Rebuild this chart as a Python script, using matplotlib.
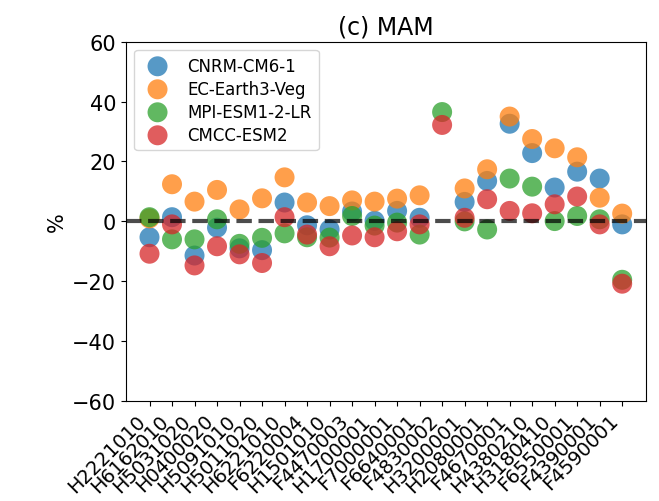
import numpy as np
import matplotlib
matplotlib.use("Agg")
import matplotlib.pyplot as plt

stations = ["H2221010", "H6162010", "H5031020", "H0400020", "H5091010", "H5011020",
            "H6221010", "F6220004", "H1501010", "F4470003", "H1700001", "F7000001",
            "F6640001", "F4830002", "H3200001", "H2080001", "F4670001", "H4380210",
            "H3180410", "F6550001", "F4390001", "F4590001"]

nan = np.nan
cnrm = [-5.3, 1.4, -11.4, -2.1, -9.0, -9.6, 6.3, -1.3, -2.7, 3.3, 0.2, 3.5,
        1.2, nan, 6.5, 13.5, 32.6, 22.8, 11.3, 16.6, 14.3, -1.0]
ecearth = [1.0, 12.4, 6.6, 10.5, 4.0, 7.7, 14.7, 6.3, 5.1, 7.0, 6.6, 7.6,
           8.7, nan, 11.0, 17.4, 35.0, 27.5, 24.4, 21.4, 7.9, 2.6]
mpi = [1.4, -6.0, -6.0, 0.7, -7.5, -5.5, -4.0, -5.3, -5.4, 1.8, -1.4, -0.4,
       -4.4, 36.5, 0.0, -2.7, 14.3, 11.6, 0.1, 1.8, 0.7, -19.5]
cmcc = [-10.8, -1.0, -14.7, -8.3, -11.0, -13.9, 1.4, -4.4, -8.3, -4.7, -5.3, -3.3,
        -1.0, 32.2, 1.2, 7.4, 3.5, 2.7, 5.7, 8.3, -1.0, -20.8]

models = ["CNRM-CM6-1", "EC-Earth3-Veg", "MPI-ESM1-2-LR", "CMCC-ESM2"]
series = [cnrm, ecearth, mpi, cmcc]
colors = ["#1f77b4", "#ff7f0e", "#2ca02c", "#d62728"]

fig = plt.figure(figsize=(6.59, 5.02), dpi=100)
ax = fig.add_axes([0.191, 0.199, 0.789, 0.716])

x = np.arange(len(stations))
for name, vals, c in zip(models, series, colors):
    ax.scatter(x, vals, s=207, color=c, alpha=0.75, label=name, edgecolors='none')

ax.axhline(0, color='k', ls='--', lw=3, alpha=0.7)

ax.set_ylim(-60, 60)
ax.set_yticks(np.arange(-60, 61, 20))
ax.set_xticks(x)
ax.set_xticklabels(stations, rotation=45, ha='right', fontsize=14)
ax.tick_params(axis='y', labelsize=15)
ax.set_ylabel('%', fontsize=15)
ax.set_title('(c) MAM', fontsize=17)
ax.legend(loc='upper left', fontsize=12, labelspacing=0.3)

fig.savefig('out.png', dpi=100)
